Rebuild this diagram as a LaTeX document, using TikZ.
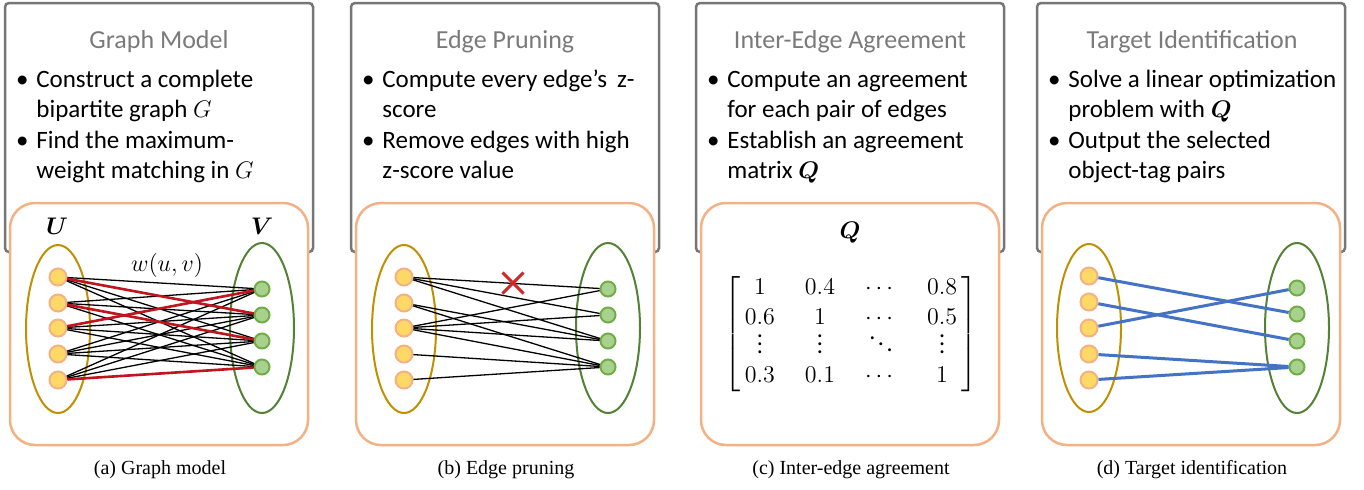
\documentclass[tikz,border=0pt]{standalone}
\usepackage{amsmath,bm}
\usepackage{fontspec}
\setmainfont{Carlito}
\newfontfamily\capfont{Liberation Serif}
\usetikzlibrary{positioning,shapes.geometric,shapes.misc}

\definecolor{boxgray}{RGB}{118,118,118}
\definecolor{titlegray}{RGB}{122,122,122}
\definecolor{peach}{RGB}{244,177,131}
\definecolor{gold}{RGB}{255,217,102}
\definecolor{olive}{RGB}{191,144,0}
\definecolor{leaf}{RGB}{169,209,142}
\definecolor{leafedge}{RGB}{112,173,71}
\definecolor{forest}{RGB}{84,130,53}
\definecolor{matchred}{RGB}{192,20,30}
\definecolor{pickblue}{RGB}{68,114,196}
\definecolor{cutred}{RGB}{210,40,40}

\newcommand{\bul}{\makebox[14pt][c]{\textbullet}}

\begin{document}
\begin{tikzpicture}[x=0.5pt,y=-0.5pt]
\useasboundingbox (0,0) rectangle (1364,489);
\tikzstyle{grayframe}=[draw=boxgray, line width=1.25pt, rounded corners=2pt]
\tikzstyle{peachframe}=[draw=peach, fill=white, line width=1.25pt, rounded corners=12.5pt]
\tikzstyle{titletext}=[anchor=base, text=titlegray, font=\fontsize{13}{15}\selectfont]
\tikzstyle{bullettext}=[anchor=base west, inner sep=0pt, font=\fontsize{12.5}{15.25}\selectfont]
\tikzstyle{captext}=[anchor=base, font=\capfont\fontsize{10}{12}\selectfont]
\tikzstyle{uset}=[ellipse, draw=olive, line width=1pt, minimum width=32pt, minimum height=84pt, inner sep=0pt]
\tikzstyle{vset}=[ellipse, draw=forest, line width=1pt, minimum width=32pt, minimum height=85pt, inner sep=0pt]
\tikzstyle{unode}=[circle, fill=gold, draw=peach, line width=1pt, minimum size=8.5pt, inner sep=0pt]
\tikzstyle{vnode}=[circle, fill=leaf, draw=leafedge, line width=1pt, minimum size=7.5pt, inner sep=0pt]
\tikzstyle{link}=[black, line width=0.65pt]
\tikzstyle{matchlink}=[matchred, line width=1.3pt]
\tikzstyle{picklink}=[pickblue, line width=1.5pt]

% (a) graph model
\draw[grayframe] (5,3) rectangle (313,252);
\node[titletext] (ta) at (159,48) {Graph Model};
\node[bullettext] (ba) at (8,87) {\begin{tabular}[t]{@{}l@{}l@{}}
\bul & Construct a complete\\
     & bipartite graph $G$\\
\bul & Find the maximum-\\
     & weight matching in $G$
\end{tabular}};
\draw[peachframe] (10,203) rectangle (308,445);
\node[uset] (Ua) at (58,329) {};
\node[vset] (Va) at (262,328) {};
\node[font=\fontsize{11.5}{13}\selectfont] (lu) at (57,226) {$\bm{U}$};
\node[font=\fontsize{11.5}{13}\selectfont] (lv) at (262,226) {$\bm{V}$};
\node[font=\fontsize{12}{14}\selectfont] (w) at (167,265) {$w(u,v)$};
\foreach \i/\y in {1/277,2/303,3/328,4/354,5/380}
  \node[unode] (ua\i) at (58,\y) {};
\foreach \j/\y in {1/289,2/315,3/341,4/367}
  \node[vnode] (va\j) at (262,\y) {};
\foreach \i in {1,...,5}
  \foreach \j in {1,...,4}
    \draw[link] (ua\i) -- (va\j);
\draw[matchlink] (ua1) -- (va2);
\draw[matchlink] (ua2) -- (va3);
\draw[matchlink] (ua3) -- (va1);
\draw[matchlink] (ua5) -- (va4);
\node[captext] (ca) at (160,474) {(a) Graph model};

% (b) edge pruning
\begin{scope}[xshift=173pt]
\draw[grayframe] (5,3) rectangle (313,252);
\node[titletext] (tb) at (159,48) {Edge Pruning};
\node[bullettext] (bb) at (8,87) {\begin{tabular}[t]{@{}l@{}l@{}}
\bul & Compute every edge’s\hspace{5pt}z-\\
     & score\\
\bul & Remove edges with high\\
     & z-score value
\end{tabular}};
\draw[peachframe] (10,203) rectangle (308,445);
\node[uset] (Ub) at (58,329) {};
\node[vset] (Vb) at (262,328) {};
\foreach \i/\y in {1/277,2/303,3/328,4/354,5/380}
  \node[unode] (ub\i) at (58,\y) {};
\foreach \j/\y in {1/289,2/315,3/341,4/367}
  \node[vnode] (vb\j) at (262,\y) {};
\draw[link] (ub1) -- (vb1);
\draw[link] (ub1) -- (vb2);
\draw[link] (ub1) -- (vb3);
\draw[link] (ub2) -- (vb3);
\draw[link] (ub2) -- (vb4);
\draw[link] (ub3) -- (vb1);
\draw[link] (ub3) -- (vb2);
\draw[link] (ub3) -- (vb3);
\draw[link] (ub3) -- (vb4);
\draw[link] (ub4) -- (vb4);
\draw[link] (ub5) -- (vb4);
\node[cross out, draw=cutred, line width=1.5pt, minimum size=9pt, inner sep=0pt] (cut) at (167,283) {};
\node[captext] (cb) at (160,474) {(b) Edge pruning};
\end{scope}

% (c) inter-edge agreement
\begin{scope}[xshift=345.5pt]
\draw[grayframe] (5,3) rectangle (313,252);
\node[titletext] (tc) at (159,48) {Inter-Edge Agreement};
\node[bullettext] (bc) at (8,87) {\begin{tabular}[t]{@{}l@{}l@{}}
\bul & Compute an agreement\\
     & for each pair of edges\\
\bul & Establish an agreement\\
     & matrix $\bm{Q}$
\end{tabular}};
\draw[peachframe] (10,203) rectangle (308,445);
\node[font=\fontsize{12}{14}\selectfont] (q) at (159,233) {$\bm{Q}$};
\node[font=\fontsize{12}{14.6}\selectfont] (qmat) at (160,334) {$\setlength{\arraycolsep}{7.5pt}\renewcommand{\arraystretch}{0.8}\left[\begin{array}{@{\hspace{2pt}}cccc@{\hspace{2pt}}}
1 & 0.4 & \cdots & 0.8\\[2.9pt]
0.6 & 1 & \cdots & 0.5\\[2.9pt]
\smash{\vdots} & \smash{\vdots} & \smash{\ddots} & \smash{\vdots}\\[2.9pt]
0.3 & 0.1 & \cdots & 1
\end{array}\right]$};
\node[captext] (cc) at (160,474) {(c) Inter-edge agreement};
\end{scope}

% (d) target identification
\begin{scope}[xshift=516pt]
\draw[grayframe] (5,3) rectangle (313,252);
\node[titletext] (td) at (160,48) {Target Identification};
\node[bullettext] (bd) at (8,87) {\begin{tabular}[t]{@{}l@{}l@{}}
\bul & Solve a linear optimization\\
     & problem with $\bm{Q}$\\
\bul & Output the selected\\
     & object-tag pairs
\end{tabular}};
\draw[peachframe] (10,203) rectangle (308,445);
\node[uset] (Ud) at (57,328) {};
\node[vset] (Vd) at (265,328) {};
\foreach \i/\y in {1/276,2/302,3/328,4/354,5/380}
  \node[unode] (ud\i) at (57,\y) {};
\foreach \j/\y in {1/288,2/314,3/341,4/367}
  \node[vnode] (vd\j) at (265,\y) {};
\draw[picklink] (ud1) -- (vd2);
\draw[picklink] (ud2) -- (vd3);
\draw[picklink] (ud3) -- (vd1);
\draw[picklink] (ud4) -- (vd4);
\draw[picklink] (ud5) -- (vd4);
\node[captext] (cd) at (160,474) {(d) Target identification};
\end{scope}
\end{tikzpicture}
\end{document}
